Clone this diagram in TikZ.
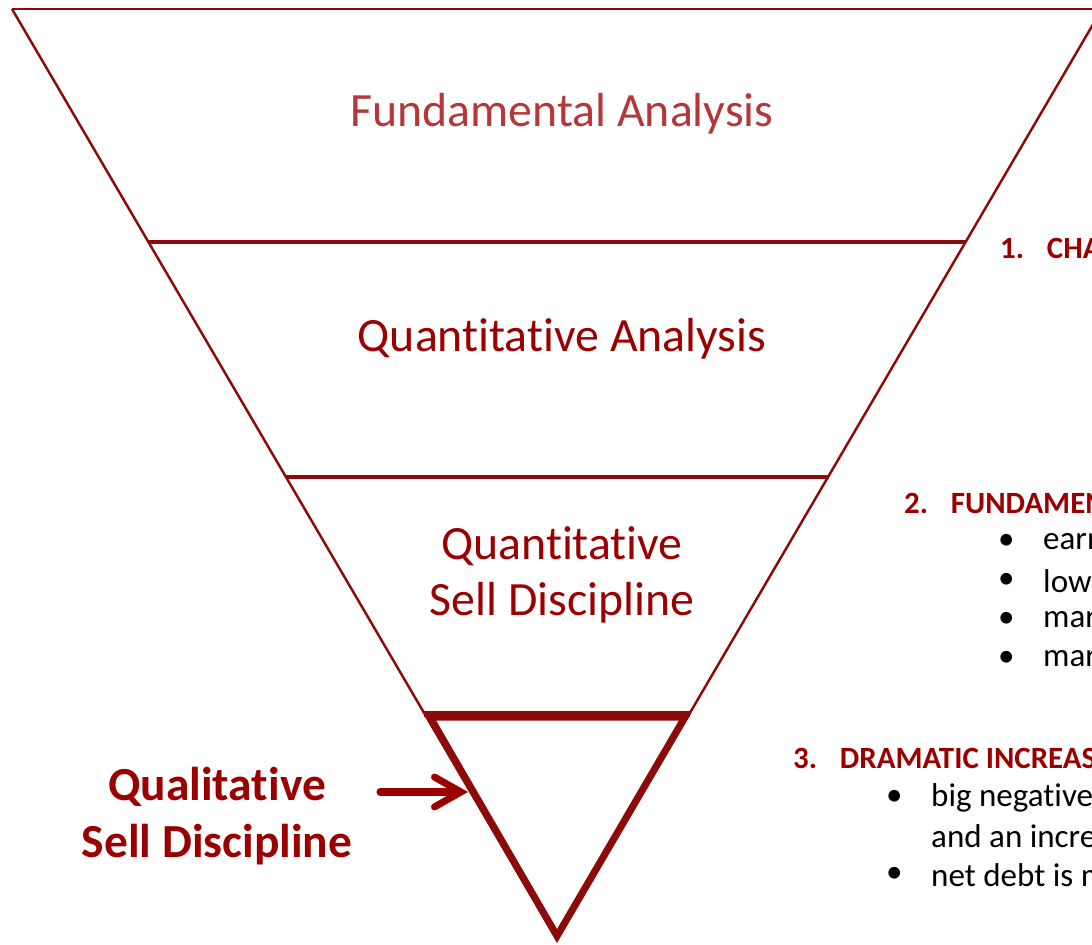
\documentclass[tikz,border=0pt]{standalone}
\usepackage{fontspec}
\setmainfont[Ligatures=NoCommon]{Carlito}
\usetikzlibrary{arrows.meta}
\definecolor{funnelred}{RGB}{140,10,10}
\definecolor{textred}{RGB}{155,0,0}
\definecolor{lightred}{RGB}{180,55,58}
\tikzset{
    layer/.style={font=\fontsize{27.2}{32}\selectfont, text=textred, align=center},
    qualbox/.style={font=\fontsize{27}{32.3}\selectfont\bfseries, text=textred, align=center},
    head/.style={font=\fontsize{17.6}{21}\selectfont\bfseries, text=textred, anchor=west},
    item/.style={font=\fontsize{18.8}{22}\selectfont, anchor=west}
}
\newcommand{\numlab}[1]{\makebox[26.6pt][l]{#1}}

\begin{document}
\begin{tikzpicture}[x=0.02cm,y=-0.02cm]
\useasboundingbox (0,0) rectangle (1092,945);
\clip (0,0) rectangle (1092,945);
\draw[funnelred, line width=1.4pt] (12,9) -- (1104,9); % top edge
\draw[funnelred, line width=1.4pt] (12,9) -- (557,940) -- (1102,9); % funnel sides
\draw[funnelred, line width=2.4pt] (148,242) -- (965,242); % band 1
\draw[funnelred, line width=2pt] (286,477) -- (829,477); % band 2
\draw[funnelred, line width=3pt] (424,714) -- (690,714); % band 3
\draw[funnelred, line width=4pt, line join=miter] (430,717) -- (557,936) -- (685,717) -- cycle; % bottom triangle
\node[layer, text=lightred] (fund) at (562,114) {Fundamental Analysis};
\node[layer] (quant) at (562,339) {Quantitative Analysis};
\node[layer] (qsell) at (562,575) {Quantitative\\Sell Discipline};
\node[qualbox] (qual) at (217,816) {Qualitative\\Sell Discipline};
\coordinate (tailq) at (380,792);
\coordinate (tipq) at (468,792);
\draw[textred, line width=4pt, line cap=round, -{Straight Barb[length=15pt,width=17pt,line cap=round]}] (tailq) -- (tipq); % arrow into the bottom triangle
% criteria on the right
\node[head] (h1) at (994,248) {\numlab{1.}CHA};
\node[head] (h2) at (898,503) {\numlab{2.}FUNDAMEN};
\node[item] (b1) at (992,542) {\textbullet};
\node[item] (t1) at (1037,542) {earn};
\node[item] (b2) at (992,581) {\textbullet};
\node[item] (t2) at (1037,581) {low};
\node[item] (b3) at (992,620) {\textbullet};
\node[item] (t3) at (1037,620) {mar};
\node[item] (b4) at (992,659) {\textbullet};
\node[item] (t4) at (1037,659) {mar};
\node[head] (h3) at (787,758) {\numlab{3.}DRAMATIC INCREAS};
\node[item] (b5) at (880,798) {\textbullet};
\node[item] (t5) at (925,798) {big negative};
\node[item] (t6) at (925,836) {and an increa};
\node[item] (b7) at (880,875) {\textbullet};
\node[item] (t7) at (925,875) {net debt is m};
\end{tikzpicture}
\end{document}
